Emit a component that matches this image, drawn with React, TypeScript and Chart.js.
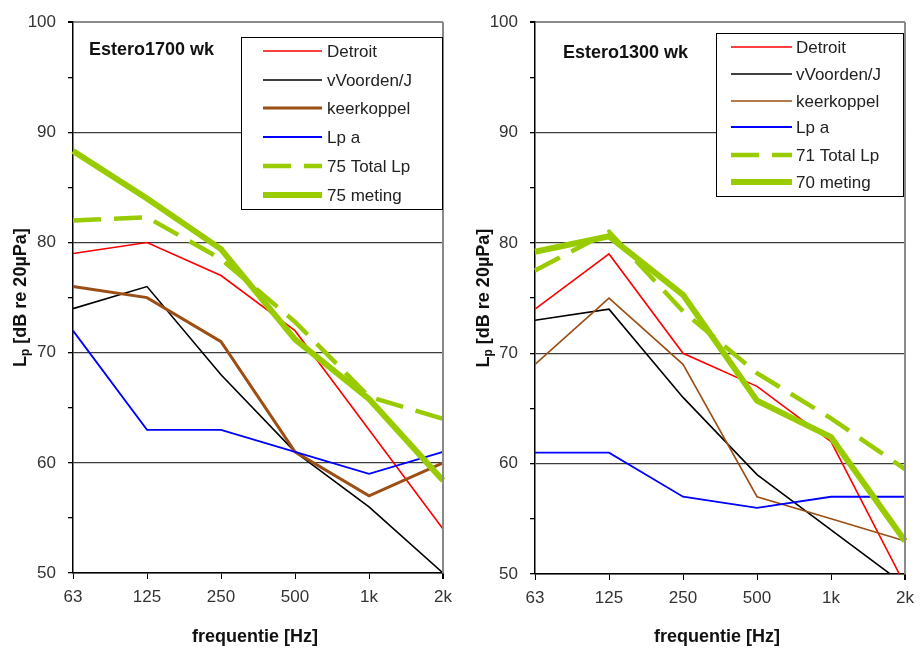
import React, { useEffect, useRef } from "react";
import { Chart, registerables } from "chart.js";

Chart.register(...registerables);

const categories = ["63", "125", "250", "500", "1k", "2k"];
const yTickValues = [50, 60, 70, 80, 90, 100];

// Left panel: Estero1700 wk
const leftTitle = "Estero1700 wk";
const leftDetroit = [79, 80, 77, 72, 63, 54];
const leftVoorden = [74, 76, 68, 61, 56, 50];
const leftKeerkoppel = [76, 75, 71, 61, 57, 60];
const leftLpa = [72, 63, 63, 61, 59, 61];
const leftTotal = [82, 82.3, 78.5, 72.8, 66, 64];
const leftMeting = [88.3, 84, 79.4, 71.2, 65.8, 58.4];
const leftLabels = ["Detroit", "vVoorden/J", "keerkoppel", "Lp a", "75 Total Lp", "75 meting"];

// Right panel: Estero1300 wk
const rightTitle = "Estero1300 wk";
const rightDetroit = [74, 79, 70, 67, 62, 49];
const rightVoorden = [73, 74, 66, 59, 54, 49];
const rightKeerkoppel = [69, 75, 69, 57, 55, 53];
const rightLpa = [61, 61, 57, 56, 57, 57];
const rightTotal = [77.5, 81, 73.8, 68.2, 64.1, 59.5];
const rightMeting = [79.2, 80.6, 75.3, 65.7, 62.4, 53];
const rightLabels = ["Detroit", "vVoorden/J", "keerkoppel", "Lp a", "71 Total Lp", "70 meting"];

const FONT = "'Liberation Sans', Arial, Helvetica, sans-serif";
const RED = "#ff0000";
const BLACK = "#000000";
const BROWN = "#9c4f14";
const BLUE = "#0000ff";
const GREEN = "#99cc00";

type PanelCfg = {
  title: string;
  labels: string[];
  series: number[][];
  keerWidth: number;
  pad: { left: number; right: number; top: number };
  yAxisWidth: number;
  xAxisHeight: number;
  tickPad: number;
  titlePos: { x: number; y: number };
  legend: { x0: number; y0: number; x1: number; y1: number; rows: number[]; lx0: number; lx1: number; tx: number };
  xTitle: { x: number; y: number };
  yTitleX: number;
};

function makeChart(canvas: HTMLCanvasElement, cfg: PanelCfg) {
  const widths = [1.6, 1.6, cfg.keerWidth, 1.8, 4.5, 6];
  const colors = [RED, BLACK, BROWN, BLUE, GREEN, GREEN];
  const datasets = cfg.series.map((s, i) => ({
    label: cfg.labels[i],
    data: s,
    borderColor: colors[i],
    backgroundColor: colors[i],
    borderWidth: widths[i],
    borderDash: i === 4 ? [28, 13] : [],
    pointRadius: 0,
    tension: 0,
    fill: false,
    order: i === 5 ? 0 : 6 - i,
  }));

  const decor = {
    id: "decor",
    afterDatasetsDraw(chart: any) {
      const ctx = chart.ctx as CanvasRenderingContext2D;
      const area = chart.chartArea;
      ctx.save();
      // right border of plot area
      ctx.beginPath();
      ctx.strokeStyle = "#8a8a8a";
      ctx.lineWidth = 2;
      ctx.moveTo(area.right, area.top);
      ctx.lineTo(area.right, area.bottom);
      ctx.stroke();

      // panel title
      ctx.fillStyle = "#111";
      ctx.font = `bold 18px ${FONT}`;
      ctx.textAlign = "left";
      ctx.textBaseline = "middle";
      ctx.fillText(cfg.title, cfg.titlePos.x, cfg.titlePos.y);

      // legend box
      const L = cfg.legend;
      ctx.fillStyle = "#ffffff";
      ctx.fillRect(L.x0, L.y0, L.x1 - L.x0, L.y1 - L.y0);
      ctx.strokeStyle = "#000";
      ctx.lineWidth = 1;
      ctx.strokeRect(L.x0 + 0.5, L.y0 + 0.5, L.x1 - L.x0, L.y1 - L.y0);
      chart.data.datasets.forEach((ds: any, i: number) => {
        const y = L.rows[i];
        ctx.beginPath();
        ctx.strokeStyle = ds.borderColor;
        ctx.lineWidth = ds.borderWidth;
        ctx.setLineDash(ds.borderDash || []);
        ctx.moveTo(L.lx0, y);
        ctx.lineTo(L.lx1, y);
        ctx.stroke();
        ctx.setLineDash([]);
        ctx.fillStyle = "#222";
        ctx.font = `17px ${FONT}`;
        ctx.textAlign = "left";
        ctx.textBaseline = "middle";
        ctx.fillText(ds.label, L.tx, y + 1);
      });

      // x title
      ctx.fillStyle = "#111";
      ctx.font = `bold 18px ${FONT}`;
      ctx.textAlign = "center";
      ctx.textBaseline = "middle";
      ctx.fillText("frequentie [Hz]", cfg.xTitle.x, cfg.xTitle.y);

      // y title with subscript
      const yc = (area.top + area.bottom) / 2;
      ctx.translate(cfg.yTitleX, yc);
      ctx.rotate(-Math.PI / 2);
      const big = `bold 18px ${FONT}`;
      const small = `bold 12px ${FONT}`;
      const rest = " [dB re 20\u00b5Pa]";
      ctx.font = big;
      const wL = ctx.measureText("L").width;
      const wR = ctx.measureText(rest).width;
      ctx.font = small;
      const wP = ctx.measureText("p").width;
      const total = wL + wP + wR;
      let x = -total / 2;
      ctx.textAlign = "left";
      ctx.textBaseline = "middle";
      ctx.font = big;
      ctx.fillText("L", x, 0);
      x += wL;
      ctx.font = small;
      ctx.fillText("p", x, 5);
      x += wP;
      ctx.font = big;
      ctx.fillText(rest, x, 0);
      ctx.restore();
    },
  };

  return new Chart(canvas, {
    type: "line",
    data: { labels: categories, datasets },
    options: {
      animation: false,
      responsive: false,
      maintainAspectRatio: false,
      devicePixelRatio: 1,
      layout: { padding: { left: cfg.pad.left, right: cfg.pad.right, top: cfg.pad.top, bottom: 0 } },
      plugins: { legend: { display: false }, tooltip: { enabled: false }, title: { display: false } },
      scales: {
        x: {
          type: "category",
          offset: false,
          afterFit(scale: any) {
            scale.height = cfg.xAxisHeight;
          },
          grid: {
            display: true,
            drawOnChartArea: true,
            drawTicks: true,
            tickLength: 6,
            color: (c: any) => (c.index === categories.length - 1 ? "#8a8a8a" : "rgba(0,0,0,0)"),
            lineWidth: (c: any) => (c.index === categories.length - 1 ? 2 : 1),
            tickColor: "#000",
          },
          border: { display: true, color: "#000", width: 1.5 },
          ticks: {
            color: "#333",
            font: { family: FONT, size: 17 },
            padding: 8,
            maxRotation: 0,
            autoSkip: false,
          },
        },
        y: {
          type: "linear",
          min: 50,
          max: 100,
          afterFit(scale: any) {
            scale.width = cfg.yAxisWidth;
          },
          grid: {
            display: true,
            drawTicks: true,
            tickLength: 5,
            color: (c: any) => {
              const v = c.tick ? c.tick.value : 0;
              if (v === 100) return "#8a8a8a";
              return yTickValues.includes(v) ? "#3c3c3c" : "rgba(0,0,0,0)";
            },
            lineWidth: (c: any) => (c.tick && c.tick.value === 100 ? 2 : 1.3),
            tickColor: "#000",
          },
          border: { display: true, color: "#000", width: 1.5 },
          ticks: {
            stepSize: 5,
            color: "#333",
            font: { family: FONT, size: 17 },
            padding: cfg.tickPad,
            callback: (v: any) => (yTickValues.includes(Number(v)) ? String(v) : ""),
          },
        },
      },
    },
    plugins: [decor],
  } as any);
}

export default function App() {
  const leftRef = useRef<HTMLCanvasElement>(null);
  const rightRef = useRef<HTMLCanvasElement>(null);

  useEffect(() => {
    const c1 = makeChart(leftRef.current!, {
      title: leftTitle,
      labels: leftLabels,
      series: [leftDetroit, leftVoorden, leftKeerkoppel, leftLpa, leftTotal, leftMeting],
      keerWidth: 3,
      pad: { left: 0, right: 15, top: 18 },
      yAxisWidth: 73,
      xAxisHeight: 76,
      tickPad: 12,
      titlePos: { x: 89, y: 50 },
      legend: { x0: 241, y0: 37, x1: 442, y1: 209, rows: [51, 80, 108, 137, 166, 195], lx0: 263, lx1: 322, tx: 327 },
      xTitle: { x: 255, y: 637 },
      yTitleX: 21,
    });
    const c2 = makeChart(rightRef.current!, {
      title: rightTitle,
      labels: rightLabels,
      series: [rightDetroit, rightVoorden, rightKeerkoppel, rightLpa, rightTotal, rightMeting],
      keerWidth: 1.6,
      pad: { left: 0, right: 13, top: 17 },
      yAxisWidth: 75,
      xAxisHeight: 75,
      tickPad: 12,
      titlePos: { x: 103, y: 53 },
      legend: { x0: 256, y0: 33, x1: 443, y1: 196, rows: [47, 74, 101, 127, 155, 182], lx0: 271, lx1: 332, tx: 336 },
      xTitle: { x: 257, y: 637 },
      yTitleX: 24,
    });
    return () => {
      c1.destroy();
      c2.destroy();
    };
  }, []);

  return (
    <div style={{ position: "fixed", left: 0, top: 0, width: 922, height: 649, background: "#fff", overflow: "hidden" }}>
      <canvas ref={leftRef} width={460} height={649} style={{ position: "absolute", left: 0, top: 0 }} />
      <canvas ref={rightRef} width={462} height={649} style={{ position: "absolute", left: 460, top: 0 }} />
    </div>
  );
}
